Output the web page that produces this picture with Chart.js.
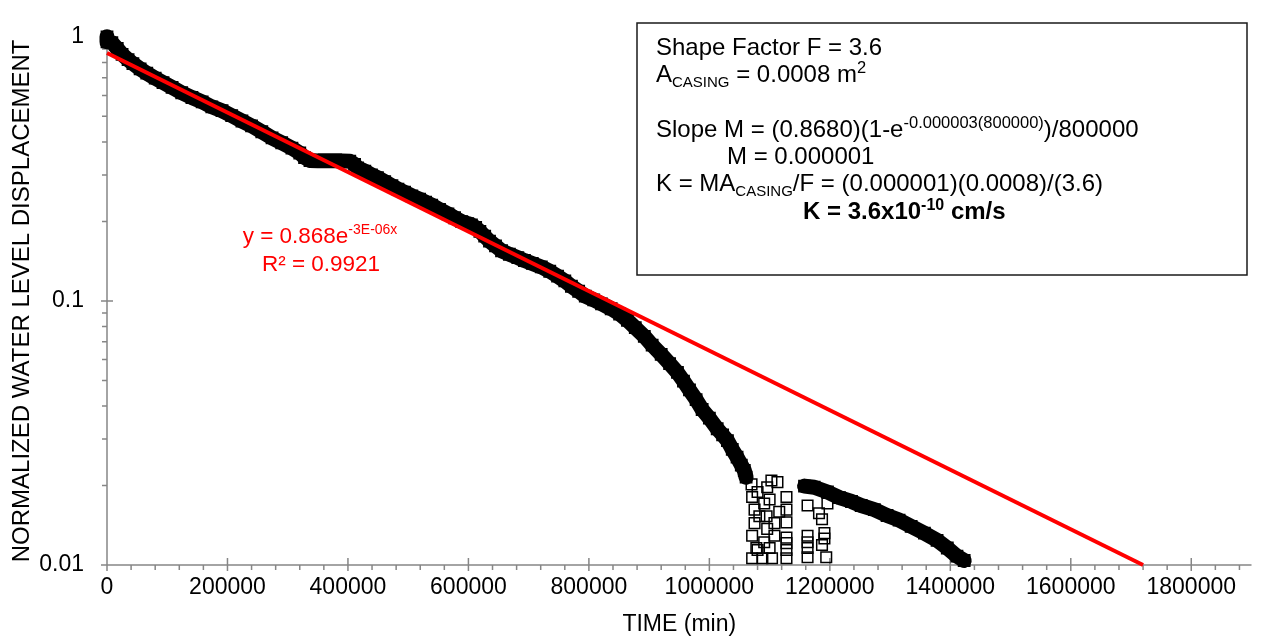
<!DOCTYPE html>
<html><head><meta charset="utf-8">
<script src="https://cdn.jsdelivr.net/npm/chart.js@4/dist/chart.umd.min.js"></script>
<style>html,body{margin:0;padding:0;background:#fff;}canvas{display:block;}</style>
</head><body>
<canvas id="c" width="1261" height="638"></canvas>
<script>
// ---------- DATA ----------
const bandX = [0,0,8000,17000,25000,35000,43000,55000,66000,80000,
  93000,108000,124000,141000,158000,174000,191000,207000,224000,240000,
  257000,274000,290000,307000,320000,328000,337000,350000,363000,376000,
  390000,403000,411000,416000,428000,439000,449000,461000,473000,483000,
  494000,506000,519000,529000,539000,552000,566000,577000,589000,599000,
  605000,612000,619000,627000,635000,645000,655000,668000,682000,693000,
  706000,721000,735000,748000,760000,771000,783000,794000,808000,821000,
  837000,851000,864000,877000,892000,905000,920000,934000,947000,957000,
  967000,978000,988000,1000000,1013000,1022000,1030000,1038000,1046000,1053000,
  1058000,1061000];
const bandY = [1.000,0.958,0.950,0.903,0.858,0.819,0.792,0.756,0.728,0.697,
  0.671,0.643,0.614,0.589,0.567,0.543,0.525,0.503,0.480,0.460,
  0.437,0.414,0.397,0.379,0.363,0.349,0.340,0.339,0.339,0.339,
  0.339,0.338,0.329,0.319,0.310,0.300,0.293,0.283,0.273,0.265,
  0.258,0.250,0.243,0.2365,0.2306,0.222,0.2137,0.2065,0.1996,0.1963,
  0.1938,0.1897,0.1834,0.1758,0.1684,0.1615,0.1548,0.1502,0.1458,0.1422,
  0.1386,0.1345,0.1295,0.1241,0.1190,0.1136,0.1088,0.1043,0.1009,0.0975,
  0.0934,0.0892,0.0844,0.0792,0.0734,0.0680,0.0627,0.0579,0.0536,0.0497,
  0.0460,0.0423,0.0388,0.0360,0.0328,0.0311,0.0296,0.0274,0.0256,0.0239,
  0.0228,0.0215];
const tailX = [1158000,1174000,1196000,1216000,1236000,1252000,1274000,1295000,1315000,1335000,1357000,1378000,1395000,1411000,1423000];
const tailY = [0.0199,0.0197,0.0189,0.0180,0.0174,0.0168,0.0162,0.0154,0.0148,0.0140,0.0132,0.0124,0.0116,0.0108,0.0104];
const scatX = [1071000,1078000,1071000,1075000,1075000,1071000,1070000,
  1088000,1091000,1096000,1095000,1091000,1096000,1103000,
  1104000,1108000,1108000,1113000,
  1128000,1128000,1128000,1128000,1128000,1128000,1128000,
  1163000,1163000,1163000,1163000,1163000,
  1182000,1187000,1191000,1191000,1194000,1196000,1187000,
  1080000,1083000,1080000,1100000,1100000,1116000];
const scatY = [0.0106,0.0116,0.0129,0.0144,0.0162,0.0181,0.0202,
  0.0106,0.0122,0.0137,0.0153,0.0171,0.0197,0.0209,
  0.0106,0.0129,0.0144,0.0206,
  0.0181,0.0162,0.0145,0.0127,0.0121,0.0114,0.0106,
  0.0129,0.0122,0.0116,0.0107,0.0168,
  0.0157,0.0149,0.0132,0.0126,0.0107,0.0171,0.0119,
  0.0189,0.0153,0.0114,0.0177,0.0116,0.0159];
const trendX = [0, 1720000];
const trendY = [0.868, 0.01];
const xTicks = [0,200000,400000,600000,800000,1000000,1200000,1400000,1600000,1800000];
const xMax = 1900000;
const xMinorStep = 40000;
const yTicks = [0.01, 0.1, 1];
const yTickLabels = ['0.01', '0.1', '1'];
const xTitle = 'TIME (min)';
const yTitle = 'NORMALIZED WATER LEVEL DISPLACEMENT';
const eqMain = 'y = 0.868e', eqSup = '-3E-06x', r2Text = 'R² = 0.9921';

const pts = (xs, ys) => xs.map((v, i) => ({x: v, y: ys[i]}));
const FONT = '"Liberation Sans", Arial, Helvetica, sans-serif';

// segs: [text, kind('n'|'sub'|'sup'), bold]
function rich(ctx, x, y, segs, align, big, sub, sup) {
  const fontOf = (s) => (s[2] ? 'bold ' : '') + (s[1] === 'n' ? big : (s[1] === 'sub' ? sub : sup)) + 'px ' + FONT;
  let w = 0;
  segs.forEach(s => { ctx.font = fontOf(s); w += ctx.measureText(s[0]).width; });
  let cx = align === 'center' ? x - w / 2 : x;
  segs.forEach(s => {
    ctx.font = fontOf(s);
    const dy = s[1] === 'sup' ? -Math.round(big * 0.38) : (s[1] === 'sub' ? Math.round(big * 0.22) : 0);
    ctx.fillText(s[0], cx, y + dy);
    cx += ctx.measureText(s[0]).width;
  });
}

const deco = {
  id: 'deco',
  beforeDatasetsDraw(chart) {
    const {ctx, chartArea: a, scales: {x, y}} = chart;
    ctx.save();
    ctx.strokeStyle = '#868686';
    ctx.lineWidth = 1.5;
    ctx.beginPath();
    ctx.moveTo(a.left, a.top); ctx.lineTo(a.left, a.bottom);
    ctx.moveTo(a.left, a.bottom); ctx.lineTo(a.right, a.bottom);
    xTicks.forEach(v => { const p = x.getPixelForValue(v); ctx.moveTo(p, a.bottom - 7); ctx.lineTo(p, a.bottom + 6); });
    for (let k = 1; k * xMinorStep <= xMax; k++) {
      if (k % 5 === 0) continue;
      const p = x.getPixelForValue(k * xMinorStep);
      ctx.moveTo(p, a.bottom); ctx.lineTo(p, a.bottom + 5);
    }
    yTicks.forEach(v => { const p = y.getPixelForValue(v); ctx.moveTo(a.left - 6, p); ctx.lineTo(a.left + 6, p); });
    [0.01, 0.1].forEach(d => { for (let k = 2; k <= 9; k++) { const p = y.getPixelForValue(k * d); ctx.moveTo(a.left - 5, p); ctx.lineTo(a.left, p); } });
    ctx.stroke();
    ctx.restore();
  },
  afterDraw(chart) {
    const {ctx} = chart;
    ctx.save();
    ctx.textBaseline = 'alphabetic';
    // trendline label
    ctx.fillStyle = '#FF0000';
    rich(ctx, 320, 243, [[eqMain, 'n'], [eqSup, 'sup']], 'center', 22.5, 14, 14);
    rich(ctx, 321, 271, [[r2Text, 'n']], 'center', 22.5, 14, 14);
    // text box
    ctx.strokeStyle = '#1a1a1a';
    ctx.lineWidth = 1.5;
    ctx.strokeRect(637, 23, 610, 252);
    ctx.fillStyle = '#000';
    const L = 656;
    rich(ctx, L, 55, [['Shape Factor F = 3.6', 'n']], 'left', 24, 15, 16.5);
    rich(ctx, L, 82, [['A', 'n'], ['CASING', 'sub'], [' = 0.0008 m', 'n'], ['2', 'sup']], 'left', 24, 15, 16.5);
    rich(ctx, L, 137, [['Slope M = (0.8680)(1-e', 'n'], ['-0.000003(800000)', 'sup'], [')/800000', 'n']], 'left', 24, 15, 16.5);
    rich(ctx, 727, 164, [['M = 0.000001', 'n']], 'left', 24, 15, 16.5);
    rich(ctx, L, 191, [['K = MA', 'n'], ['CASING', 'sub'], ['/F = (0.000001)(0.0008)/(3.6)', 'n']], 'left', 24, 15, 16.5);
    rich(ctx, 803, 219, [['K = 3.6x10', 'n', 1], ['-10', 'sup', 1], [' cm/s', 'n', 1]], 'left', 24, 15, 16);
    ctx.restore();
  }
};

const bandStyle = {showLine: true, borderColor: '#000', borderWidth: 15, borderJoinStyle: 'round', borderCapStyle: 'round',
  pointStyle: 'rect', pointRadius: 8, pointBorderWidth: 1.5, pointBorderColor: '#000', pointBackgroundColor: '#000', clip: false};

new Chart(document.getElementById('c'), {
  type: 'scatter',
  data: {
    datasets: [
      {data: pts(trendX, trendY), showLine: true, borderColor: '#FF0000', borderWidth: 4, pointRadius: 0, clip: false},
      Object.assign({data: pts(bandX, bandY)}, bandStyle),
      Object.assign({data: pts(tailX, tailY)}, bandStyle),
      {data: pts(scatX, scatY), showLine: false,
        pointStyle: 'rect', pointRadius: 7.5, pointBorderWidth: 1.5, pointBorderColor: '#000', pointBackgroundColor: 'rgba(0,0,0,0)', clip: false}
    ]
  },
  options: {
    responsive: false,
    devicePixelRatio: 1,
    animation: false,
    layout: {padding: {top: 22, right: 8, left: 0, bottom: 0}},
    plugins: {legend: {display: false}, tooltip: {enabled: false}},
    scales: {
      x: {
        type: 'linear', min: 0, max: xMax,
        afterBuildTicks: s => { s.ticks = xTicks.map(v => ({value: v})); },
        afterFit: s => { s.height = 73; },
        grid: {display: false, drawTicks: false}, border: {display: false},
        ticks: {color: '#000', font: {family: FONT, size: 23}, padding: 9, maxRotation: 0, autoSkip: false, callback: v => String(v)},
        title: {display: true, text: xTitle, color: '#000', font: {family: FONT, size: 23}, padding: {top: 0, bottom: 0}}
      },
      y: {
        type: 'logarithmic', min: 0.01, max: 1,
        afterBuildTicks: s => { s.ticks = yTicks.map(v => ({value: v})); },
        afterFit: s => { s.width = 107; },
        grid: {display: false, drawTicks: false}, border: {display: false},
        ticks: {color: '#000', font: {family: FONT, size: 23}, padding: 23, autoSkip: false,
          callback: (v) => { const i = yTicks.findIndex(t => Math.abs(t - v) < 1e-9); return i >= 0 ? yTickLabels[i] : ''; }},
        title: {display: true, text: yTitle, color: '#000', font: {family: FONT, size: 24}, padding: {top: 8, bottom: 0}}
      }
    }
  },
  plugins: [deco]
});
</script>
</body></html>
